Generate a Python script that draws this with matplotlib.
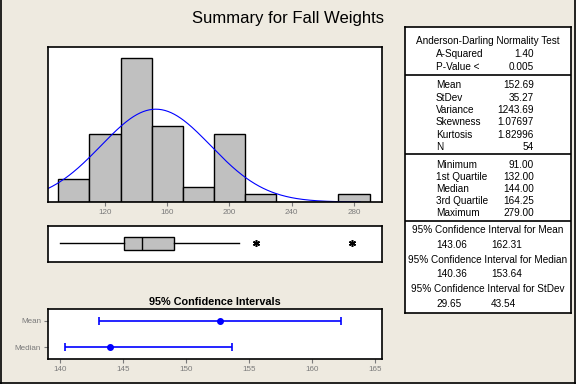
import numpy as np
import matplotlib.pyplot as plt
from matplotlib.lines import Line2D

plt.rcParams['font.family'] = ['Liberation Sans', 'DejaVu Sans']

# histogram of fall weights (bin left edges and counts)
bin_left = [90, 110, 130, 150, 170, 190, 210, 230, 250, 270]
bin_counts = [3, 9, 19, 10, 2, 9, 1, 0, 0, 1]
bin_width = 20
hist_ticks = [120, 160, 200, 240, 280]

# boxplot values
box_min = 91.0
box_q1 = 132.0
box_median = 144.0
box_q3 = 164.25
box_whisker_hi = 206.0
box_outliers = [217.0, 279.0]

# fitted normal
mean = 152.69
stdev = 35.27
n_obs = 54

# confidence intervals
ci_names = ["Median", "Mean"]
ci_center = [144.00, 152.69]
ci_low = [140.36, 143.06]
ci_high = [153.64, 162.31]
ci_ticks = [140, 145, 150, 155, 160, 165]

# summary table
ad_labels = ["A-Squared", "P-Value <"]
ad_values = ["1.40", "0.005"]
desc_labels = ["Mean", "StDev", "Variance", "Skewness", "Kurtosis", "N"]
desc_values = ["152.69", "35.27", "1243.69", "1.07697", "1.82996", "54"]
quart_labels = ["Minimum", "1st Quartile", "Median", "3rd Quartile", "Maximum"]
quart_values = ["91.00", "132.00", "144.00", "164.25", "279.00"]
ci_headers = ["95% Confidence Interval for Mean",
              "95% Confidence Interval for Median",
              "95% Confidence Interval for StDev"]
ci_table_low = ["143.06", "140.36", "29.65"]
ci_table_high = ["162.31", "153.64", "43.54"]

W, H = 576, 384
bg = '#EEEAE0'
gray = '#7A7A7A'
fig = plt.figure(figsize=(W / 100, H / 100), dpi=100, facecolor=bg)


def px_axes(x0, y0, x1, y1):
    a = fig.add_axes([x0 / W, 1 - y1 / H, (x1 - x0) / W, (y1 - y0) / H])
    for s in a.spines.values():
        s.set_linewidth(1.2)
        s.set_color('black')
    a.tick_params(length=3, color=gray, labelcolor=gray, labelsize=5.8, pad=2)
    return a


fig.text(0.5, 1 - 18 / H, "Summary for Fall Weights", ha='center', va='center', fontsize=12)

# histogram + normal curve
ax = px_axes(48, 47, 382, 202)
ax.bar(bin_left, bin_counts, width=bin_width, align='edge',
       color='#C0C0C0', edgecolor='black', linewidth=1)
xs = np.linspace(83.4, 284, 300)
pdf = np.exp(-0.5 * ((xs - mean) / stdev) ** 2) / (stdev * np.sqrt(2 * np.pi))
ax.plot(xs, n_obs * bin_width * pdf, color='#0000FF', lw=0.8)
ax.set_xlim(83.4, 298)
ax.set_ylim(0, 20.4)
ax.set_yticks([])
ax.set_xticks(hist_ticks)

# boxplot
axb = px_axes(48, 226, 382, 262)
stats = [dict(whislo=box_min, q1=box_q1, med=box_median, q3=box_q3,
              whishi=box_whisker_hi, fliers=box_outliers)]
axb.bxp(stats, positions=[0], widths=0.34, orientation='horizontal',
        showcaps=False, patch_artist=True,
        boxprops=dict(facecolor='#C0C0C0', edgecolor='black', linewidth=1),
        medianprops=dict(color='black', linewidth=1),
        whiskerprops=dict(color='black', linewidth=1),
        flierprops=dict(marker=(6, 2, 0), markerfacecolor='black',
                        markeredgecolor='black', markersize=5, markeredgewidth=1.1))
axb.set_xlim(83.4, 298)
axb.set_ylim(-0.515, 0.485)
axb.set_xticks([])
axb.set_yticks([])

# confidence intervals
axc = px_axes(48, 309, 382, 359)
ypos = np.arange(len(ci_names))
xerr = [np.subtract(ci_center, ci_low), np.subtract(ci_high, ci_center)]
axc.errorbar(ci_center, ypos, xerr=xerr, fmt='o', color='#0000FF', ms=4,
             capsize=3, elinewidth=1.2, capthick=1.2)
axc.set_xlim(139.05, 165.55)
axc.set_ylim(-0.46, 1.46)
axc.set_xticks(ci_ticks)
axc.set_yticks(ypos, ci_names)
axc.set_title("95% Confidence Intervals", fontsize=7.8, fontweight='bold', pad=3)

# summary table
axt = px_axes(405, 27, 571, 313)
axt.set_xlim(405, 571)
axt.set_ylim(313, 27)
axt.set_xticks([])
axt.set_yticks([])
for y in [75, 154.3, 220.7]:
    axt.axhline(y, color='black', lw=1.2)

fs = 7.2
lx, rx, cx = 436, 534, 488


def row(y, label, value):
    axt.text(lx, y, label, ha='left', va='center', fontsize=fs)
    axt.text(rx, y, value, ha='right', va='center', fontsize=fs)


axt.text(cx, 40.7, "Anderson-Darling Normality Test", ha='center', va='center', fontsize=fs)
for i, (l, v) in enumerate(zip(ad_labels, ad_values)):
    row(54.3 + i * 12.4, l, v)
for i, (l, v) in enumerate(zip(desc_labels, desc_values)):
    row(85.3 + i * 12.3, l, v)
for i, (l, v) in enumerate(zip(quart_labels, quart_values)):
    row(165 + i * 12.1, l, v)
for i, (h, lo, hi) in enumerate(zip(ci_headers, ci_table_low, ci_table_high)):
    y = 230 + i * 29.7
    axt.text(cx, y, h, ha='center', va='center', fontsize=fs)
    axt.text(lx, y + 14.5, lo, ha='left', va='center', fontsize=fs)
    axt.text(491, y + 14.5, hi, ha='left', va='center', fontsize=fs)

# window frame
for xx, yy in [([0.5, 0.5], [0, H]), ([574.8, 574.8], [0, H]), ([0, 575], [382.8, 382.8])]:
    fig.add_artist(Line2D(np.array(xx) / W, 1 - np.array(yy) / H,
                          transform=fig.transFigure, color='black', lw=1.2))

fig.savefig("out.png", dpi=100, facecolor=bg)
